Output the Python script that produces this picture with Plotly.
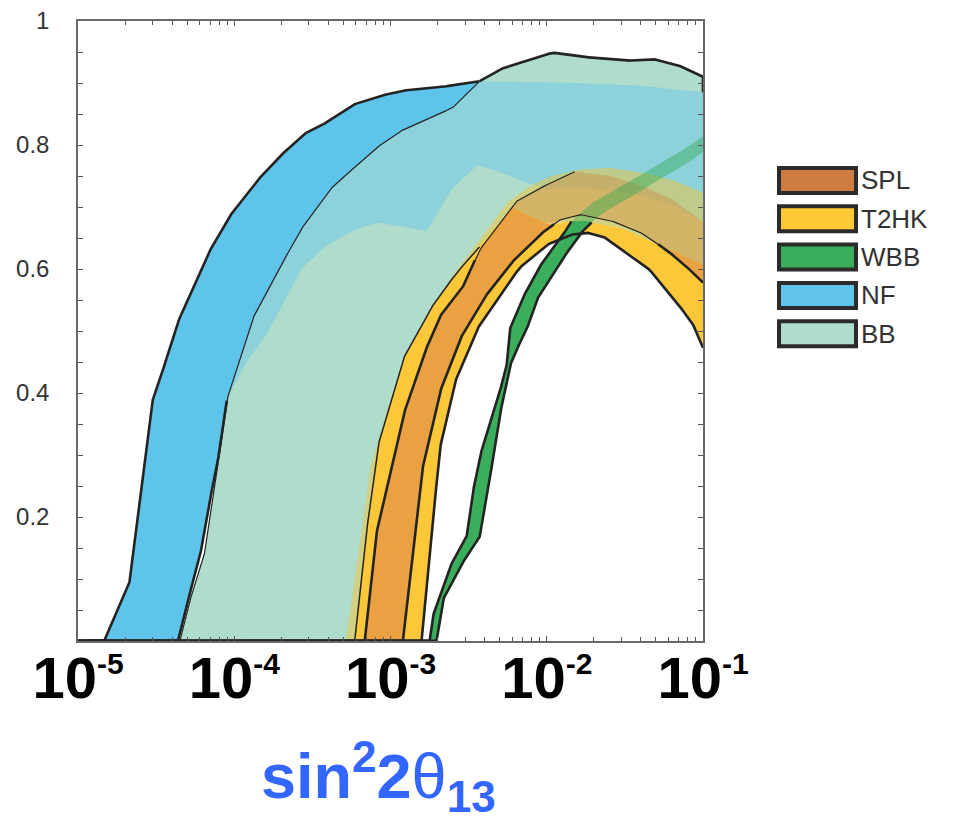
import numpy as np
import plotly.graph_objects as go

# ---------------- data (x = sin^2 2theta13, y = fraction) ----------------
NF_HI_X = [1.00e-5, 1.47e-5, 2.13e-5, 2.96e-5, 3.34e-5, 4.28e-5, 6.65e-5, 9.14e-5, 1.36e-4, 1.91e-4,
           2.76e-4, 3.70e-4, 5.75e-4, 8.53e-4, 1.20e-3, 1.78e-3, 3.21e-3, 3.72e-3, 1.21e-2, 3.92e-2, 1.00e-1]
NF_HI_Y = [0, 0, 0.093, 0.384, 0.421, 0.510, 0.620, 0.682, 0.739, 0.779,
           0.817, 0.833, 0.865, 0.879, 0.888, 0.891, 0.900, 0.903, 0.901, 0.896, 0.885]

NF_LO_X = [1.00e-5, 4.36e-5, 4.91e-5, 6.03e-5, 6.98e-5, 7.75e-5, 8.97e-5, 1.22e-4, 1.69e-4, 2.75e-4,
           4.08e-4, 5.90e-4, 8.28e-4, 1.73e-3, 2.50e-3, 3.61e-3, 4.99e-3, 7.43e-3, 1.04e-2, 1.62e-2,
           2.52e-2, 3.92e-2, 6.37e-2, 1.00e-1]
NF_LO_Y = [0, 0, 0.055, 0.136, 0.228, 0.281, 0.389, 0.454, 0.502, 0.604,
           0.642, 0.663, 0.675, 0.661, 0.731, 0.768, 0.757, 0.739, 0.728, 0.731,
           0.728, 0.720, 0.704, 0.676]

BB_HI_X = [1.00e-5, 4.49e-5, 5.05e-5, 6.40e-5, 7.30e-5, 7.86e-5, 8.97e-5, 1.30e-4, 1.87e-4, 2.75e-4,
           4.08e-4, 8.17e-4, 1.15e-3, 2.50e-3, 3.72e-3, 4.99e-3, 7.76e-3, 1.09e-2, 1.55e-2, 3.38e-2,
           4.74e-2, 6.75e-2, 8.55e-2, 1.00e-1]
BB_HI_Y = [0, 0, 0.055, 0.136, 0.228, 0.281, 0.389, 0.518, 0.594, 0.668,
           0.728, 0.796, 0.822, 0.860, 0.903, 0.922, 0.938, 0.949, 0.943, 0.936,
           0.939, 0.930, 0.918, 0.910]

BB_LO_X = [1.00e-5, 6.35e-4, 7.58e-4, 9.18e-4, 1.23e-3, 1.92e-3, 2.98e-3, 4.99e-3, 9.00e-3, 1.62e-2,
           2.92e-2, 5.26e-2, 1.00e-1]
BB_LO_Y = [0, 0, 0.131, 0.276, 0.389, 0.502, 0.583, 0.647, 0.676, 0.676,
           0.667, 0.639, 0.607]

# upper edge of the pale (faded) part of the T2HK band
T2_OUT_X = [1.00e-5, 5.18e-4, 6.17e-4, 7.36e-4, 9.88e-4, 1.54e-3, 2.39e-3, 3.72e-3, 5.53e-3, 8.11e-3,
            1.04e-2, 1.51e-2, 2.41e-2, 3.92e-2, 6.37e-2, 1.00e-1]
T2_OUT_Y = [0, 0, 0.131, 0.276, 0.389, 0.502, 0.583, 0.647, 0.707, 0.736,
            0.749, 0.760, 0.764, 0.757, 0.744, 0.723]

T2_HI_X = [1.00e-5, 5.90e-4, 7.01e-4, 8.28e-4, 1.20e-3, 1.78e-3, 2.65e-3, 3.72e-3, 6.41e-3, 8.61e-3,
           1.51e-2, 2.41e-2, 3.92e-2, 6.37e-2, 1.00e-1]
T2_HI_Y = [0, 0, 0.174, 0.313, 0.454, 0.534, 0.594, 0.636, 0.709, 0.728,
           0.757, 0.752, 0.736, 0.712, 0.676]

T2_LO_X = [1.00e-5, 1.58e-3, 1.78e-3, 2.06e-3, 2.57e-3, 3.56e-3, 4.78e-3, 6.70e-3, 9.98e-3, 1.40e-2,
           1.80e-2, 2.34e-2, 3.05e-2, 4.54e-2, 6.37e-2, 8.55e-2, 1.00e-1]
T2_LO_Y = [0, 0, 0.131, 0.308, 0.416, 0.502, 0.550, 0.602, 0.639, 0.655,
           0.659, 0.651, 0.631, 0.599, 0.555, 0.513, 0.473]

SPL_HI_X = [1.00e-5, 6.84e-4, 8.13e-4, 1.20e-3, 1.61e-3, 2.06e-3, 2.90e-3, 3.72e-3, 6.41e-3, 8.61e-3,
            1.51e-2, 2.41e-2, 3.92e-2, 6.37e-2, 1.00e-1]
SPL_HI_Y = [0, 0, 0.174, 0.362, 0.458, 0.523, 0.571, 0.631, 0.709, 0.728,
            0.757, 0.752, 0.736, 0.712, 0.676]

SPL_LO_X = [1.00e-5, 1.20e-3, 1.37e-3, 1.58e-3, 2.06e-3, 2.77e-3, 3.89e-3, 5.78e-3, 9.00e-3, 1.21e-2,
            1.62e-2, 2.52e-2, 3.92e-2, 5.83e-2, 7.83e-2, 1.00e-1]
SPL_LO_Y = [0, 0, 0.131, 0.271, 0.400, 0.486, 0.550, 0.607, 0.655, 0.679,
            0.688, 0.679, 0.660, 0.631, 0.604, 0.578]

WBB_HI_X = [1.00e-5, 1.78e-3, 1.86e-3, 2.39e-3, 3.07e-3, 3.30e-3, 3.72e-3, 4.84e-3, 5.53e-3, 5.78e-3,
            6.90e-3, 9.00e-3, 1.21e-2, 1.46e-2, 1.88e-2, 2.92e-2, 4.54e-2, 7.06e-2, 1.00e-1]
WBB_HI_Y = [0, 0, 0.039, 0.119, 0.168, 0.228, 0.297, 0.389, 0.442, 0.502,
            0.550, 0.604, 0.647, 0.679, 0.704, 0.731, 0.760, 0.788, 0.814]

WBB_LO_X = [1.00e-5, 1.97e-3, 2.16e-3, 2.77e-3, 3.72e-3, 4.12e-3, 4.99e-3, 5.78e-3, 6.41e-3, 7.43e-3,
            8.61e-3, 1.21e-2, 1.67e-2, 2.18e-2, 3.38e-2, 5.26e-2, 8.19e-2, 1.00e-1]
WBB_LO_Y = [0, 0, 0.066, 0.119, 0.168, 0.228, 0.362, 0.442, 0.470, 0.502,
            0.550, 0.610, 0.659, 0.688, 0.715, 0.744, 0.773, 0.789]

# boundary above which the accelerator bands lie behind the NF/BB bands
COVER_X = [3.72e-3, 4.99e-3, 6.70e-3, 1.04e-2, 1.62e-2, 2.92e-2, 5.26e-2, 1.00e-1]
COVER_Y = [0.790, 0.712, 0.693, 0.671, 0.679, 0.667, 0.639, 0.607]

X_TICKS = [1e-5, 1e-4, 1e-3, 1e-2, 1e-1]
X_TICK_EXP = ["-5", "-4", "-3", "-2", "-1"]
Y_TICKS = [0.2, 0.4, 0.6, 0.8, 1.0]
Y_TICK_TEXT = ["0.2", "0.4", "0.6", "0.8", "1"]

LEG_NAMES = ["SPL", "T2HK", "WBB", "NF", "BB"]
LEG_COLORS = ["#CF7C43", "#FDC935", "#3AAE5C", "#60C4EA", "#AFDCCB"]

# ---------------- styling ----------------
NF_C = "#5FC4EA"
BB_C = "#AFDCCB"
OV_C = "#8DD2DB"
T2_C = "#FCC83A"
SPL_C = "#E9A142"
WBB_C = "#3BAE5B"
LINE_C = "#232323"

lg = np.linspace(-5, -1, 3001)
gx = 10 ** lg


def on_grid(xs, ys):
    return np.interp(lg, np.log10(np.asarray(xs, float)), np.asarray(ys, float))


nf_hi = on_grid(NF_HI_X, NF_HI_Y)
nf_lo = on_grid(NF_LO_X, NF_LO_Y)
bb_hi = on_grid(BB_HI_X, BB_HI_Y)
bb_lo = on_grid(BB_LO_X, BB_LO_Y)
t2_out = on_grid(T2_OUT_X, T2_OUT_Y)
t2_hi = on_grid(T2_HI_X, T2_HI_Y)
t2_lo = on_grid(T2_LO_X, T2_LO_Y)
spl_hi = on_grid(SPL_HI_X, SPL_HI_Y)
spl_lo = on_grid(SPL_LO_X, SPL_LO_Y)
w_hi = on_grid(WBB_HI_X, WBB_HI_Y)
w_lo = on_grid(WBB_LO_X, WBB_LO_Y)
cover = on_grid(COVER_X, COVER_Y)

fig = go.Figure()


def band(lo, hi, color):
    hi2 = np.maximum(hi, lo)
    fig.add_trace(go.Scatter(
        x=np.concatenate([gx, gx[::-1]]), y=np.concatenate([hi2, lo[::-1]]),
        mode="lines", fill="toself", fillcolor=color, line=dict(width=0),
        hoverinfo="skip", showlegend=False))


def edge(y, mask, width, xs=None):
    xs = gx if xs is None else xs
    fig.add_trace(go.Scatter(
        x=xs, y=np.where(mask, y, np.nan), mode="lines",
        line=dict(color=LINE_C, width=width), connectgaps=False,
        hoverinfo="skip", showlegend=False))


# fills
band(nf_lo, nf_hi, NF_C)
band(bb_lo, bb_hi, BB_C)
band(np.maximum(nf_lo, bb_lo), np.minimum(nf_hi, bb_hi), OV_C)
band(t2_lo, t2_out, "rgba(250,196,40,0.45)")
band(spl_lo, spl_hi, "rgba(210,120,50,0.33)")
band(w_lo, w_hi, "rgba(50,170,85,0.45)")
band(t2_lo, np.minimum(t2_hi, cover), T2_C)
band(spl_lo, np.minimum(spl_hi, cover), SPL_C)
band(w_lo, np.minimum(w_hi, cover), WBB_C)

THICK, THIN = 2.6, 1.2
peak_x = np.log10(SPL_HI_X[10])
merge_x = np.log10(SPL_HI_X[7])

# NF / BB outlines
edge(nf_hi, nf_hi >= bb_hi, THICK)
edge(bb_hi, (bb_hi < nf_hi), THIN)
bb_top = np.where(bb_hi >= nf_hi, bb_hi, np.nan)
edge(np.append(bb_top, nf_hi[-1]), np.ones(len(gx) + 1, bool), THICK, xs=np.append(gx, gx[-1]))
edge(nf_lo, nf_lo >= bb_hi, THICK)

# accelerator bands outlines
edge(t2_hi, lg <= merge_x, 1.5)
edge(spl_hi, (spl_hi < cover) & (lg <= merge_x - 0.03), THICK)
edge(spl_hi, (lg >= merge_x - 0.05) & (lg <= peak_x), THIN)
edge(spl_lo, spl_lo < cover, THICK)
edge(spl_lo, spl_lo >= cover - 0.004, THIN)
edge(t2_lo, np.ones_like(lg, bool), THICK)
edge(w_hi, w_hi < cover, THICK)
edge(w_lo, w_lo < cover, THICK)

# ---------------- layout geometry (figure px; the page adds an 8 px body margin) ----------------
PAGE_OFF = 8
FIG_W, FIG_H = 959 - PAGE_OFF, 821 - PAGE_OFF
PLOT_L, PLOT_R, PLOT_T, PLOT_B = 78, 703, 21, 641   # page px of the plot frame
pw, ph = PLOT_R - PLOT_L, PLOT_B - PLOT_T


def px_x(px):
    return (px - PLOT_L) / pw


def px_y(py):
    return (PLOT_B - py) / ph


shapes, annos = [], []
for i, (name, col) in enumerate(zip(LEG_NAMES, LEG_COLORS)):
    cy = 180.5 + 38.3 * i
    shapes.append(dict(type="rect", xref="paper", yref="paper",
                       x0=px_x(779), x1=px_x(856), y0=px_y(cy + 12.5), y1=px_y(cy - 12.5),
                       fillcolor=col, line=dict(color="#2b2b2b", width=4), layer="above"))
    annos.append(dict(xref="paper", yref="paper", x=px_x(859), y=px_y(cy), text=name,
                      showarrow=False, xanchor="left", yanchor="middle",
                      font=dict(family="Liberation Sans, Arial, sans-serif", size=26, color="#333333")))

annos.append(dict(xref="paper", yref="paper", x=px_x(378), y=px_y(776),
                  text='sin<sup>2</sup>2<span style="font-weight:normal">θ</span><sub>13</sub>',
                  showarrow=False, xanchor="center", yanchor="middle",
                  font=dict(family="Liberation Sans, Arial, sans-serif", size=63,
                            color="#3366FF", weight="bold")))

x_ticktext = ['10<sup><span style="font-size:30px">%s</span></sup>' % e for e in X_TICK_EXP]
x_minor = [k * 10.0 ** n for n in range(-5, -1) for k in range(2, 10)]

axis_common = dict(showline=True, linecolor="#6a6a6a", linewidth=1.5, mirror="allticks",
                   ticks="inside", ticklen=5, tickcolor="#555555", showgrid=False, zeroline=False,
                   automargin=False, ticklabeloverflow="allow")

fig.update_layout(
    width=FIG_W, height=FIG_H, autosize=False,
    margin=dict(l=PLOT_L - PAGE_OFF, r=FIG_W - (PLOT_R - PAGE_OFF),
                t=PLOT_T - PAGE_OFF, b=FIG_H - (PLOT_B - PAGE_OFF)),
    plot_bgcolor="white", paper_bgcolor="white",
    showlegend=False, shapes=shapes, annotations=annos,
    xaxis=dict(type="log", range=[-5, -1], tickmode="array", tickvals=X_TICKS,
               ticktext=x_ticktext, ticklabelstandoff=-14,
               tickfont=dict(family="Liberation Sans Narrow, Arial Narrow, Liberation Sans, sans-serif",
                             size=58, color="black", weight="bold"),
               minor=dict(ticks="inside", ticklen=4, tickcolor="#555555", showgrid=False,
                          tickmode="array", tickvals=x_minor),
               **axis_common),
    yaxis=dict(range=[0, 1], tickmode="array", tickvals=Y_TICKS, ticktext=Y_TICK_TEXT,
               tickfont=dict(family="Liberation Sans, Arial, sans-serif", size=24, color="#333333"),
               ticklabelstandoff=22,
               minor=dict(ticks="inside", ticklen=5, dtick=0.05, tickcolor="#555555", showgrid=False),
               **axis_common),
)

fig.write_html("out.html")
